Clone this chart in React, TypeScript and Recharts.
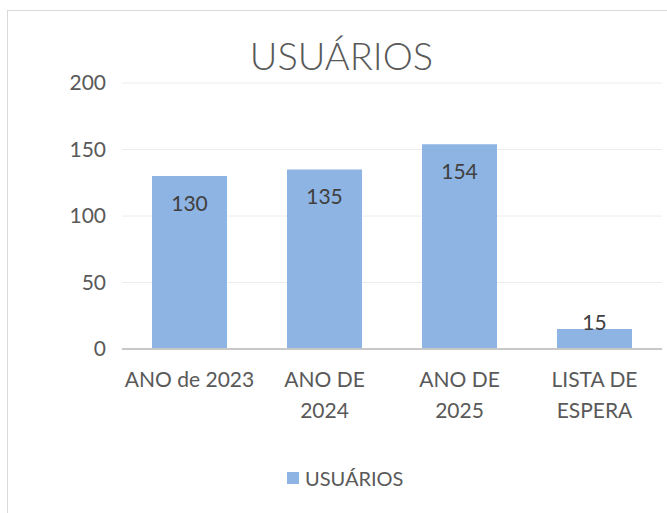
import React from 'react';
import { BarChart, Bar, XAxis, YAxis, CartesianGrid, LabelList } from 'recharts';

const categories = ['ANO de 2023', 'ANO DE\n2024', 'ANO DE\n2025', 'LISTA DE\nESPERA'];
const usuarios = [130, 135, 154, 15];
const yTicks = [0, 50, 100, 150, 200];
const seriesName = 'USUÁRIOS';
const chartTitle = 'USUÁRIOS';

const data = categories.map((c, i) => ({ name: c, usuarios: usuarios[i] }));

const FONT = 'Lato, "Open Sans", sans-serif';
const BAR_COLOR = '#8DB4E2';
const TEXT = '#595959';

const CategoryTick = ({ x, y, payload }: any) => {
  const lines = String(payload.value).split('\n');
  return (
    <text x={x} y={y} textAnchor="middle" fill={TEXT} fontSize={21} fontFamily={FONT}>
      {lines.map((l, i) => (
        <tspan key={i} x={x} y={y + 38 + i * 31}>
          {l}
        </tspan>
      ))}
    </text>
  );
};

const ValueLabel = ({ x, y, width, height, value }: any) => {
  // inside end, pushed up when the bar is too short
  const base = Math.min(y + 35, y + height - 19);
  return (
    <text x={x + width / 2} y={base} textAnchor="middle" fill="#404040" fontSize={21} fontFamily={FONT}>
      {value}
    </text>
  );
};

export default function App() {
  return (
    <div
      style={{
        position: 'absolute',
        left: 7,
        top: 10,
        width: 660,
        height: 503,
        borderLeft: '1px solid #d9d9d9',
        borderTop: '1px solid #d9d9d9',
        background: '#fff',
        fontFamily: FONT,
        overflow: 'hidden',
      }}
    >
      <div
        style={{
          position: 'absolute',
          left: 0,
          width: 667,
          top: 25,
          textAlign: 'center',
          fontSize: 38,
          fontWeight: 300,
          lineHeight: 1,
          color: TEXT,
          whiteSpace: 'nowrap',
        }}
      >
        {chartTitle}
      </div>
      <BarChart
        width={660}
        height={503}
        data={data}
        margin={{ top: 72, right: 6, bottom: 105, left: 0 }}
        barCategoryGap={30}
      >
        <CartesianGrid vertical={false} stroke="#ececec" strokeWidth={1} />
        <YAxis
          domain={[0, 200]}
          ticks={yTicks}
          width={114}
          axisLine={false}
          tickLine={false}
          tickSize={0}
          tickMargin={16}
          tick={{ fill: TEXT, fontSize: 21, fontFamily: FONT }}
        />
        <XAxis
          dataKey="name"
          height={60}
          axisLine={{ stroke: '#c8c8c8', strokeWidth: 2 }}
          tickLine={false}
          tickSize={0}
          tickMargin={0}
          interval={0}
          tick={<CategoryTick />}
        />
        <Bar dataKey="usuarios" name={seriesName} fill={BAR_COLOR} isAnimationActive={false}>
          <LabelList dataKey="usuarios" content={<ValueLabel />} />
        </Bar>
      </BarChart>
      <div
        style={{
          position: 'absolute',
          left: 279,
          top: 455,
          display: 'flex',
          alignItems: 'center',
          color: TEXT,
          fontSize: 20,
          whiteSpace: 'nowrap',
        }}
      >
        <span style={{ display: 'inline-block', width: 12, height: 12, background: BAR_COLOR, marginRight: 6 }} />
        <span>{seriesName}</span>
      </div>
    </div>
  );
}
